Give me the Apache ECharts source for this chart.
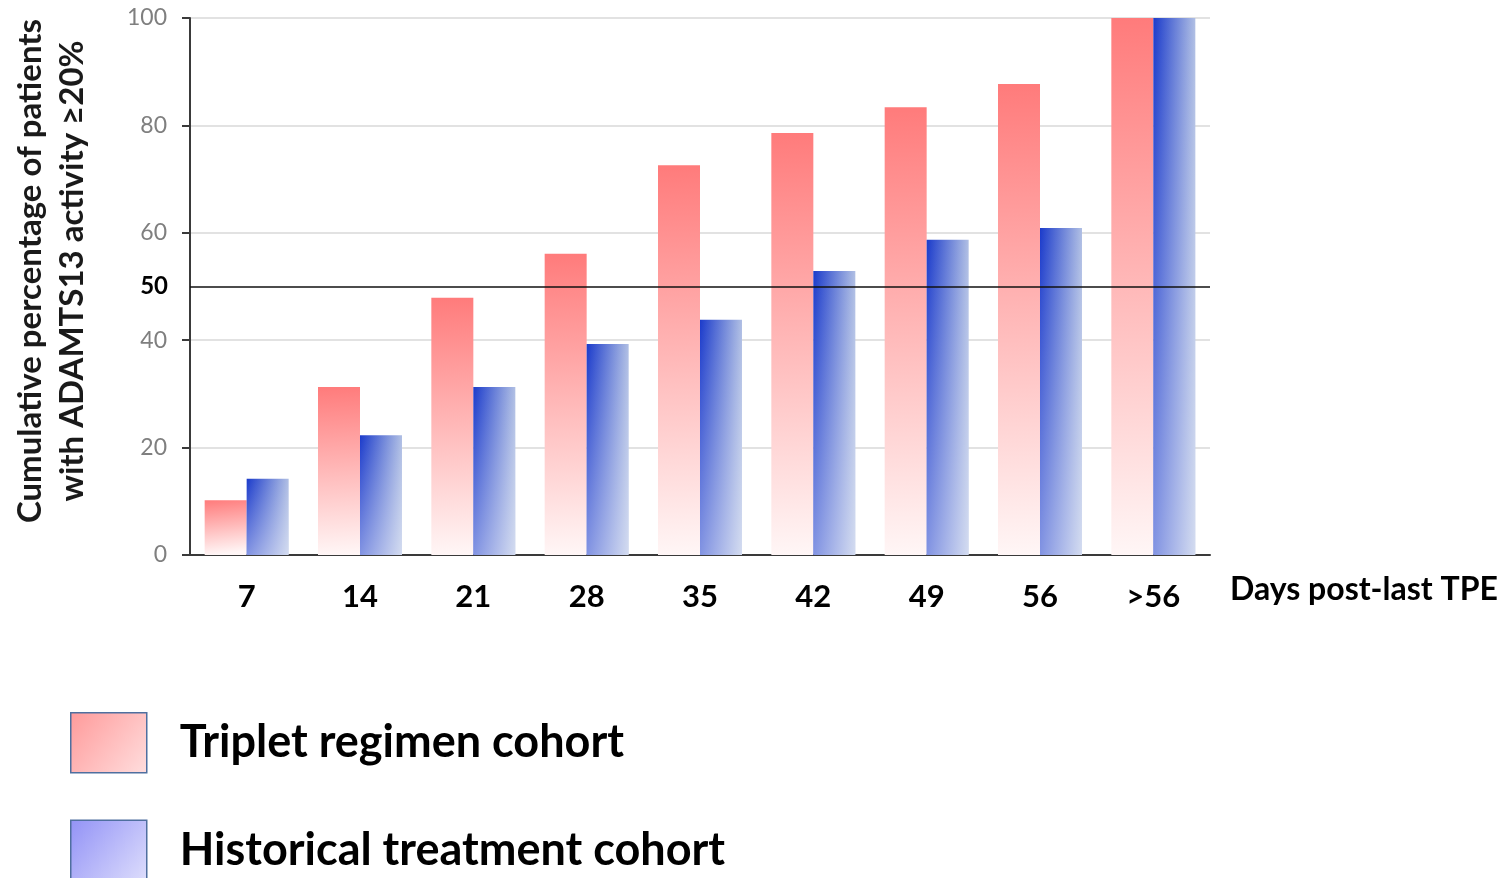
<!DOCTYPE html>
<html>
<head>
<meta charset="utf-8">
<script src="https://cdn.jsdelivr.net/npm/echarts@6/dist/echarts.min.js"></script>
<style>
  html, body { margin: 0; padding: 0; background: #fff; }
  #chart { width: 1500px; height: 878px; }
</style>
</head>
<body>
<div id="chart"></div>
<script>
// Days after the last therapeutic plasma exchange
const days = ['7', '14', '21', '28', '35', '42', '49', '56', '>56'];
// Cumulative % of patients reaching ADAMTS13 activity >=20%
const tripletCohort = [10.2, 31.3, 47.9, 56.1, 72.6, 78.6, 83.4, 87.7, 100];
const historicalCohort = [14.2, 22.3, 31.3, 39.3, 43.8, 52.9, 58.7, 60.9, 100];
const yTicks = { min: 0, max: 100, step: 20 };
const referenceLevel = 50;

const FONT = 'Lato, "Open Sans", sans-serif';

const redFill = new echarts.graphic.LinearGradient(0, 0, 0.15, 1, [
  { offset: 0, color: '#ff7b7b' },
  { offset: 1, color: '#fff6f6' }
]);
const blueFill = new echarts.graphic.LinearGradient(0, 0, 1, 0, [
  { offset: 0, color: '#1b3bcb' },
  { offset: 1, color: '#b0bfe4' }
]);
// soft fade towards the baseline on the historical bars
const blueFade = new echarts.graphic.LinearGradient(0, 0, 0, 1, [
  { offset: 0, color: 'rgba(255,255,255,0)' },
  { offset: 1, color: 'rgba(255,255,255,0.45)' }
]);

const chart = echarts.init(document.getElementById('chart'), null, { renderer: 'canvas' });

chart.setOption({
  animation: false,
  backgroundColor: '#ffffff',
  grid: { left: 190, right: 290, top: 18, bottom: 323, containLabel: false },
  xAxis: [{
    type: 'category',
    data: days,
    axisLine: { show: true, lineStyle: { color: '#3a3a3a', width: 2 } },
    axisTick: { show: false },
    axisLabel: { color: '#000', fontFamily: FONT, fontWeight: 'bold', fontSize: 31, margin: 26 }
  }, {
    type: 'category',
    data: days,
    show: false
  }],
  yAxis: {
    type: 'value',
    min: yTicks.min,
    max: yTicks.max,
    interval: yTicks.step,
    axisLine: { show: true, lineStyle: { color: '#3a3a3a', width: 2 } },
    axisTick: { show: true, length: 8, lineStyle: { color: '#3a3a3a', width: 2 } },
    axisLabel: { color: '#7f7f7f', fontFamily: FONT, fontSize: 23, margin: 23 },
    splitLine: { show: true, lineStyle: { color: '#d9d9d9', width: 1.5 } }
  },
  legend: {
    orient: 'vertical',
    left: 70,
    top: 712,
    height: 300,
    padding: 0,
    itemWidth: 76,
    itemHeight: 60,
    itemGap: 46,
    icon: 'rect',
    textStyle: { color: '#000', fontFamily: FONT, fontWeight: 'bold', fontSize: 45, padding: [0, 0, 16, 28] },
    data: [
      {
        name: 'Triplet regimen cohort',
        itemStyle: {
          color: new echarts.graphic.LinearGradient(0, 0, 1, 1, [
            { offset: 0, color: '#ff9a9a' },
            { offset: 1, color: '#ffdede' }
          ]),
          borderColor: '#4f6f9f', borderWidth: 1.5
        }
      },
      {
        name: 'Historical treatment cohort',
        itemStyle: {
          color: new echarts.graphic.LinearGradient(0, 0, 1, 1, [
            { offset: 0, color: '#9292f6' },
            { offset: 1, color: '#dedefc' }
          ]),
          borderColor: '#4f6f9f', borderWidth: 1.5
        }
      }
    ]
  },
  graphic: [
    {
      type: 'text',
      x: 30, y: 271,
      rotation: Math.PI / 2,
      style: {
        text: 'Cumulative percentage of patients',
        font: 'bold 33px ' + FONT, fill: '#1a1a1a',
        align: 'center', verticalAlign: 'middle'
      }
    },
    {
      type: 'text',
      x: 72, y: 271,
      rotation: Math.PI / 2,
      style: {
        text: 'with ADAMTS13 activity \u226520%',
        font: 'bold 33px ' + FONT, fill: '#1a1a1a',
        align: 'center', verticalAlign: 'middle'
      }
    },
    {
      type: 'text',
      x: 1230, y: 590,
      style: {
        text: 'Days post-last TPE',
        font: 'bold 32px ' + FONT, fill: '#000',
        align: 'left', verticalAlign: 'middle'
      }
    }
  ],
  series: [
    {
      name: 'Triplet regimen cohort',
      type: 'bar',
      xAxisIndex: 0,
      data: tripletCohort,
      barWidth: 42,
      barGap: '0%',
      itemStyle: { color: redFill },
      markLine: {
        silent: true,
        symbol: 'none',
        lineStyle: { color: '#111', width: 1.5, type: 'solid' },
        label: {
          position: 'start', distance: 22, formatter: String(referenceLevel),
          color: '#000', fontFamily: FONT, fontWeight: 'bold', fontSize: 24
        },
        data: [{ yAxis: referenceLevel }]
      },
      z: 2
    },
    {
      name: 'Historical treatment cohort',
      type: 'bar',
      xAxisIndex: 0,
      data: historicalCohort,
      barWidth: 42,
      barGap: '0%',
      itemStyle: { color: blueFill },
      z: 2
    },
    {
      // invisible spacer so the fade lines up with the historical bars
      type: 'bar',
      xAxisIndex: 1,
      data: tripletCohort,
      barWidth: 42,
      barGap: '0%',
      silent: true,
      itemStyle: { color: 'rgba(0,0,0,0)' },
      z: 3
    },
    {
      type: 'bar',
      xAxisIndex: 1,
      data: historicalCohort,
      barWidth: 42,
      barGap: '0%',
      silent: true,
      itemStyle: { color: blueFade },
      z: 3
    }
  ]
});
</script>
</body>
</html>
